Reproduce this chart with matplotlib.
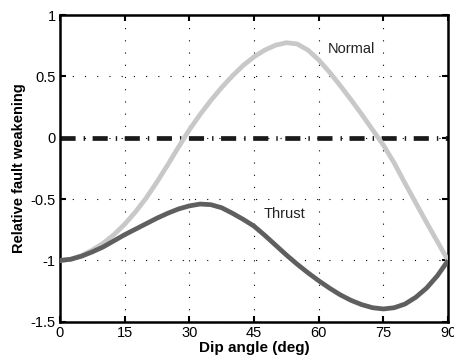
import matplotlib

matplotlib.use("Agg")
import matplotlib.pyplot as plt  # noqa: E402

plt.rcParams["font.family"] = ["Liberation Sans", "DejaVu Sans"]

# values, every 2.5 degrees
dip = [0, 2.5, 5, 7.5, 10, 12.5, 15, 17.5, 20, 22.5, 25, 27.5, 30, 32.5, 35,
       37.5, 40, 42.5, 45, 47.5, 50, 52.5, 55, 57.5, 60, 62.5, 65, 67.5, 70,
       72.5, 75, 77.5, 80, 82.5, 85, 87.5, 90]
normal = [-1.0, -0.99, -0.96, -0.915, -0.86, -0.79, -0.705, -0.605, -0.49,
          -0.36, -0.22, -0.075, 0.065, 0.19, 0.305, 0.41, 0.505, 0.59, 0.66,
          0.715, 0.755, 0.775, 0.765, 0.715, 0.635, 0.535, 0.425, 0.31, 0.19,
          0.065, -0.06, -0.205, -0.37, -0.53, -0.69, -0.845, -1.0]
thrust = [-1.0, -0.99, -0.965, -0.93, -0.89, -0.84, -0.79, -0.745, -0.70,
          -0.655, -0.615, -0.58, -0.555, -0.54, -0.545, -0.57, -0.615,
          -0.665, -0.72, -0.795, -0.875, -0.955, -1.03, -1.10, -1.165,
          -1.225, -1.28, -1.325, -1.36, -1.385, -1.395, -1.385, -1.355,
          -1.30, -1.225, -1.125, -1.0]
xticks = [0, 15, 30, 45, 60, 75, 90]
yticks = [-1.5, -1, -0.5, 0, 0.5, 1]
yticklabels = ["-1.5", "-1", "-0.5", "0", "0.5", "1"]

fig = plt.figure(figsize=(4.54, 3.6), dpi=100)
ax = fig.add_axes([0.132, 0.106, 0.855, 0.852])

ax.plot(dip, normal, color="#c8c8c8", lw=3.4, solid_capstyle="butt",
        solid_joinstyle="round", zorder=3)
ax.plot(dip, thrust, color="#5f5f5f", lw=3.4, solid_capstyle="butt",
        solid_joinstyle="round", zorder=3)
ax.axhline(0, color="#1a1a1a", lw=3.4, dashes=(3.2, 1.7, 0.3, 1.6),
           dash_capstyle="butt", zorder=2)

ax.text(62, 0.727, "Normal", fontsize=10.5, color="#222222", va="center")
ax.text(47.2, -0.62, "Thrust", fontsize=10.5, color="#222222", va="center")

ax.set_xlim(0, 90)
ax.set_ylim(-1.5, 1)
ax.set_xticks(xticks)
ax.set_yticks(yticks)
ax.set_yticklabels(yticklabels)
ax.grid(True, color="black", lw=0.8, linestyle=(0, (1, 10)))
ax.tick_params(direction="in", length=4, width=1.5, top=True, right=True,
               labelsize=10.5, pad=3)
for s in ax.spines.values():
    s.set_linewidth(1.8)

ax.set_xlabel("Dip angle (deg)", fontsize=11, fontweight="bold", labelpad=1)
ax.set_ylabel("Relative fault weakening", fontsize=10.5, fontweight="bold",
              labelpad=3)

fig.savefig("out.png", dpi=100)
